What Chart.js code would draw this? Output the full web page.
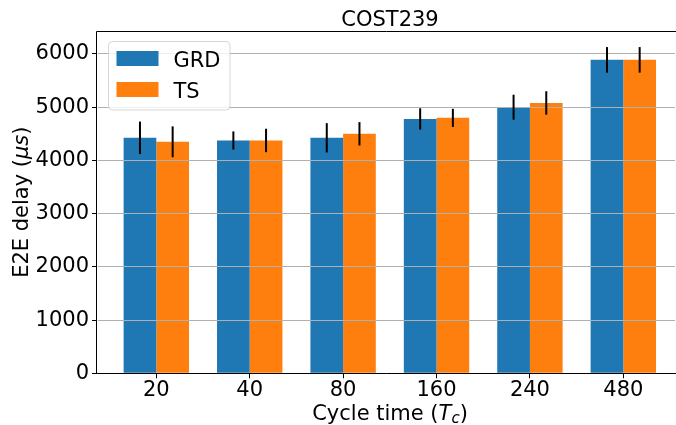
<!DOCTYPE html>
<html>
<head>
<meta charset="utf-8">
<script src="https://cdn.jsdelivr.net/npm/chart.js@4"></script>
<style>
html, body { margin: 0; padding: 0; background: #fff; }
#chart { display: block; }
</style>
</head>
<body>
<canvas id="chart" width="676" height="425"></canvas>
<script>
const cycleTimes = ['20', '40', '80', '160', '240', '480'];
const grdDelay = [4425, 4375, 4425, 4780, 5000, 5890];
const tsDelay = [4350, 4375, 4500, 4800, 5080, 5890];
const grdErr = [305, 170, 275, 200, 235, 240];
const tsErr = [290, 220, 220, 170, 220, 240];
const yTicks = [0, 1000, 2000, 3000, 4000, 5000, 6000];

const FONT = 'DejaVu Sans';
Chart.defaults.font.family = FONT;
Chart.defaults.font.size = 21;
Chart.defaults.color = '#000';

// draws a row of text pieces, some italic / subscript (mathtext look)
function drawRuns(ctx, runs, cx, baseline) {
    let total = 0;
    runs.forEach(r => {
        ctx.font = (r.italic ? 'italic ' : '') + r.size + 'px "' + FONT + '"';
        r.w = ctx.measureText(r.t).width;
        total += r.w;
    });
    let x = cx - total / 2;
    runs.forEach(r => {
        ctx.font = (r.italic ? 'italic ' : '') + r.size + 'px "' + FONT + '"';
        ctx.fillText(r.t, x, baseline + (r.dy || 0));
        x += r.w;
    });
}

const errorBars = {
    id: 'errorBars',
    afterDraw(chart) {
        const ctx = chart.ctx;
        const y = chart.scales.y;
        ctx.save();
        ctx.strokeStyle = '#000';
        ctx.lineWidth = 2;
        chart.data.datasets.forEach((ds, d) => {
            chart.getDatasetMeta(d).data.forEach((bar, i) => {
                const v = ds.data[i].y;
                ctx.beginPath();
                ctx.moveTo(bar.x, y.getPixelForValue(v - ds.errors[i]));
                ctx.lineTo(bar.x, y.getPixelForValue(v + ds.errors[i]));
                ctx.stroke();
            });
        });
        ctx.restore();
    }
};

// top spine plus redrawn left/bottom spines over the grid
const frame = {
    id: 'frame',
    afterDraw(chart) {
        const a = chart.chartArea;
        const ctx = chart.ctx;
        const l = Math.round(a.left) - 0.5, t = Math.round(a.top) + 0.5, b = Math.round(a.bottom) + 0.5;
        ctx.save();
        ctx.strokeStyle = '#000';
        ctx.lineWidth = 1;
        ctx.beginPath();
        ctx.moveTo(l, t);
        ctx.lineTo(a.right, t);
        ctx.moveTo(l, t);
        ctx.lineTo(l, b);
        ctx.moveTo(l, b);
        ctx.lineTo(a.right, b);
        ctx.stroke();
        ctx.restore();
    }
};

const legendBox = {
    id: 'legendBox',
    afterDraw(chart) {
        const a = chart.chartArea;
        const ctx = chart.ctx;
        const bx = a.left + 11.5, by = a.top + 10.5, bw = 121.5, bh = 68.5;
        ctx.save();
        ctx.fillStyle = 'rgba(255,255,255,0.8)';
        ctx.strokeStyle = 'rgba(204,204,204,0.8)';
        ctx.lineWidth = 1;
        ctx.beginPath();
        ctx.roundRect(bx, by, bw, bh, 4);
        ctx.fill();
        ctx.stroke();
        ctx.font = '21px "' + FONT + '"';
        ctx.textBaseline = 'alphabetic';
        chart.data.datasets.forEach((ds, i) => {
            const rowTop = by + 9.5 + i * 31;
            ctx.fillStyle = ds.backgroundColor;
            ctx.fillRect(bx + 8, rowTop, 42, 15);
            ctx.fillStyle = '#000';
            ctx.fillText(ds.label, bx + 65, rowTop + 15.5);
        });
        ctx.restore();
    }
};

const texts = {
    id: 'texts',
    afterDraw(chart) {
        const a = chart.chartArea;
        const ctx = chart.ctx;
        const cx = 390;
        ctx.save();
        ctx.fillStyle = '#000';
        ctx.textBaseline = 'alphabetic';
        drawRuns(ctx, [{ t: 'COST239', size: 21 }], cx, 25.5);
        drawRuns(ctx, [
            { t: 'Cycle time (', size: 21 },
            { t: 'T', size: 21, italic: true },
            { t: 'c', size: 15, italic: true, dy: 3 },
            { t: ')', size: 21 }
        ], cx, 419.5);
        ctx.translate(27.5, (a.top + a.bottom) / 2);
        ctx.rotate(-Math.PI / 2);
        drawRuns(ctx, [
            { t: 'E2E delay (', size: 21 },
            { t: 'μs', size: 21, italic: true },
            { t: ')', size: 21 }
        ], 0, 0);
        ctx.restore();
    }
};

// wipe stray edge lines at the canvas sides next to the plot
const edges = {
    id: 'edges',
    afterDraw(chart) {
        const a = chart.chartArea;
        const ctx = chart.ctx;
        ctx.save();
        ctx.fillStyle = '#fff';
        ctx.fillRect(0, a.top - 1, 3, a.bottom - a.top + 3);
        ctx.fillRect(chart.width - 1, Math.round(a.top) + 1, 1, Math.round(a.bottom - a.top) - 1);
        ctx.restore();
    }
};

const ctx = document.getElementById('chart').getContext('2d');
new Chart(ctx, {
    type: 'bar',
    data: {
        datasets: [{
            label: 'GRD',
            data: grdDelay.map((v, i) => ({ x: i, y: v })),
            errors: grdErr,
            backgroundColor: '#1f77b4'
        }, {
            label: 'TS',
            data: tsDelay.map((v, i) => ({ x: i, y: v })),
            errors: tsErr,
            backgroundColor: '#ff7f0e'
        }]
    },
    options: {
        responsive: false,
        animation: false,
        categoryPercentage: 0.7,
        barPercentage: 1.0,
        layout: { padding: { left: 0, right: 0, top: 31, bottom: 0 } },
        plugins: {
            legend: { display: false },
            tooltip: { enabled: false }
        },
        scales: {
            x: {
                type: 'linear',
                min: -0.635,
                max: 5.564,
                offset: false,
                afterBuildTicks: s => { s.ticks = cycleTimes.map((_, i) => ({ value: i })); },
                afterFit: s => { s.height = 51.7; },
                ticks: {
                    callback: v => cycleTimes[v],
                    padding: 0,
                    maxRotation: 0,
                    autoSkip: false
                },
                grid: { drawOnChartArea: false, offset: false, tickLength: 5, tickColor: '#000' },
                border: { color: '#000' }
            },
            y: {
                min: 0,
                max: 6432,
                afterBuildTicks: s => { s.ticks = yTicks.map(v => ({ value: v })); },
                afterFit: s => { s.width = 97; },
                ticks: { padding: 3, callback: v => String(v) },
                grid: { color: '#b0b0b0', z: 1, tickLength: 5, tickColor: '#000' },
                border: { color: '#000' }
            }
        }
    },
    plugins: [errorBars, frame, legendBox, texts, edges]
});
</script>
</body>
</html>
